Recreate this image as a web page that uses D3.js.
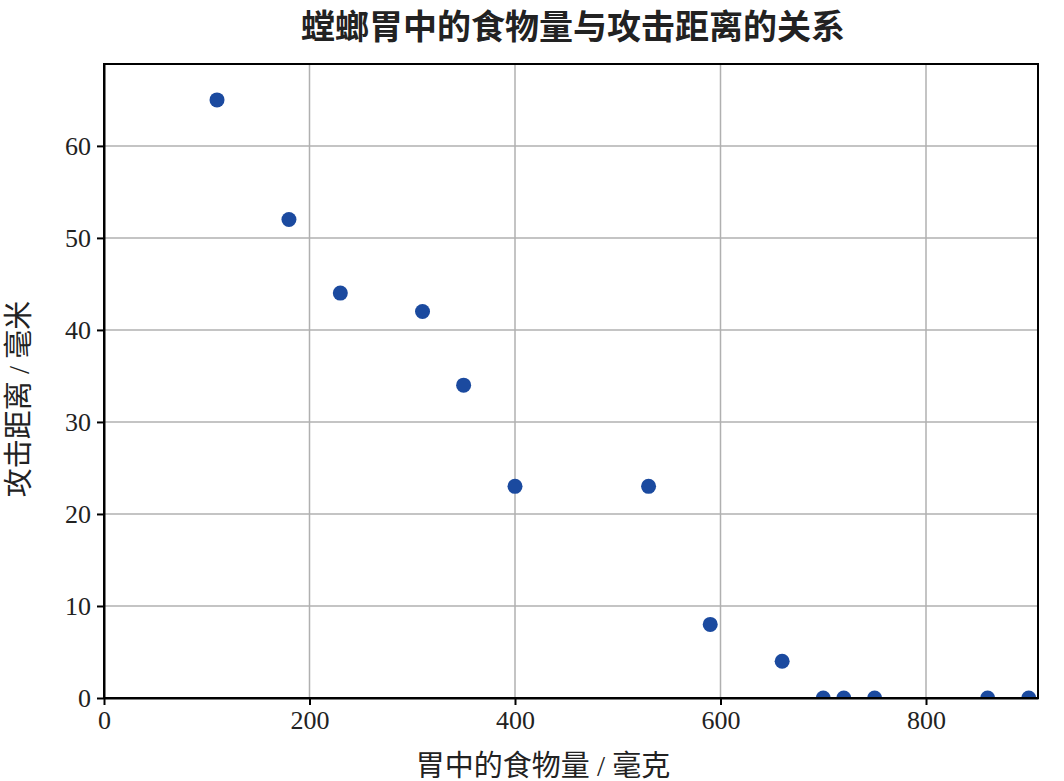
<!DOCTYPE html>
<html>
<head>
<meta charset="utf-8">
<script src="https://cdn.jsdelivr.net/npm/d3@7"></script>
<style>
  body { margin: 0; background: #fff; }
  svg { display: block; }
</style>
</head>
<body>
<svg id="chart" width="1064" height="781"></svg>
<script>
// 胃中的食物量 (毫克)
const foodAmount = [110, 180, 230, 310, 350, 400, 530, 590, 660, 700, 720, 750, 860, 900];
// 攻击距离 (毫米)
const attackDistance = [65, 52, 44, 42, 34, 23, 23, 8, 4, 0, 0, 0, 0, 0];
const xTicks = [0, 200, 400, 600, 800];
const yTicks = [0, 10, 20, 30, 40, 50, 60];

const titleText = '螳螂胃中的食物量与攻击距离的关系';
const xLabel = '胃中的食物量 / 毫克';
const yLabel = '攻击距离 / 毫米';

const width = 1064, height = 781;
const margin = { top: 64, right: 26, bottom: 83, left: 104 };
const iw = width - margin.left - margin.right;
const ih = height - margin.top - margin.bottom;

const serif = "'Liberation Serif', 'DejaVu Serif', 'Noto Sans CJK SC', serif";

const svg = d3.select('#chart');

const x = d3.scaleLinear().domain([0, 909]).range([0, iw]);
const y = d3.scaleLinear().domain([0, 68.9]).range([ih, 0]);

const g = svg.append('g').attr('transform', `translate(${margin.left},${margin.top})`);

// 网格
g.append('g')
  .selectAll('line')
  .data(xTicks.filter(d => d > 0))
  .join('line')
  .attr('x1', d => x(d)).attr('x2', d => x(d))
  .attr('y1', 0).attr('y2', ih)
  .attr('stroke', '#b0b0b0').attr('stroke-width', 1.5);

g.append('g')
  .selectAll('line')
  .data(yTicks.filter(d => d > 0))
  .join('line')
  .attr('x1', 0).attr('x2', iw)
  .attr('y1', d => y(d)).attr('y2', d => y(d))
  .attr('stroke', '#b0b0b0').attr('stroke-width', 1.5);

// 裁剪区域
svg.append('defs').append('clipPath').attr('id', 'plot-clip')
  .append('rect').attr('width', iw).attr('height', ih);

// 散点
g.append('g')
  .attr('clip-path', 'url(#plot-clip)')
  .selectAll('circle')
  .data(foodAmount.map((v, i) => ({ x: v, y: attackDistance[i] })))
  .join('circle')
  .attr('cx', d => x(d.x))
  .attr('cy', d => y(d.y))
  .attr('r', 7.5)
  .attr('fill', '#1b4a9f');

// 边框
g.append('rect')
  .attr('width', iw).attr('height', ih)
  .attr('fill', 'none')
  .attr('stroke', '#000').attr('stroke-width', 2);

// 坐标轴
const xAxis = g.append('g')
  .attr('transform', `translate(0,${ih})`)
  .call(d3.axisBottom(x).tickValues(xTicks).tickSize(7).tickSizeOuter(0).tickPadding(6));
const yAxis = g.append('g')
  .call(d3.axisLeft(y).tickValues(yTicks).tickSize(7).tickSizeOuter(0).tickPadding(6));

[xAxis, yAxis].forEach(a => {
  a.select('.domain').attr('stroke', '#000').attr('stroke-width', 2);
  a.selectAll('.tick line').attr('stroke', '#000').attr('stroke-width', 2);
  a.selectAll('.tick text')
    .attr('font-family', serif)
    .attr('font-size', 26)
    .attr('fill', '#222');
});

// 标题
svg.append('text')
  .attr('x', margin.left + iw / 2 + 2)
  .attr('y', 39)
  .attr('text-anchor', 'middle')
  .attr('font-family', "'Noto Sans CJK SC', sans-serif")
  .attr('font-weight', 'bold')
  .attr('font-size', 34)
  .attr('fill', '#222')
  .text(titleText);

// 轴标签
svg.append('text')
  .attr('x', margin.left + iw / 2 - 28)
  .attr('y', 776)
  .attr('text-anchor', 'middle')
  .attr('font-family', serif)
  .attr('font-size', 29)
  .attr('fill', '#222')
  .text(xLabel);

svg.append('text')
  .attr('transform', `translate(29,${margin.top + ih / 2 + 18}) rotate(-90)`)
  .attr('text-anchor', 'middle')
  .attr('font-family', serif)
  .attr('font-size', 29)
  .attr('fill', '#222')
  .text(yLabel);
</script>
</body>
</html>
